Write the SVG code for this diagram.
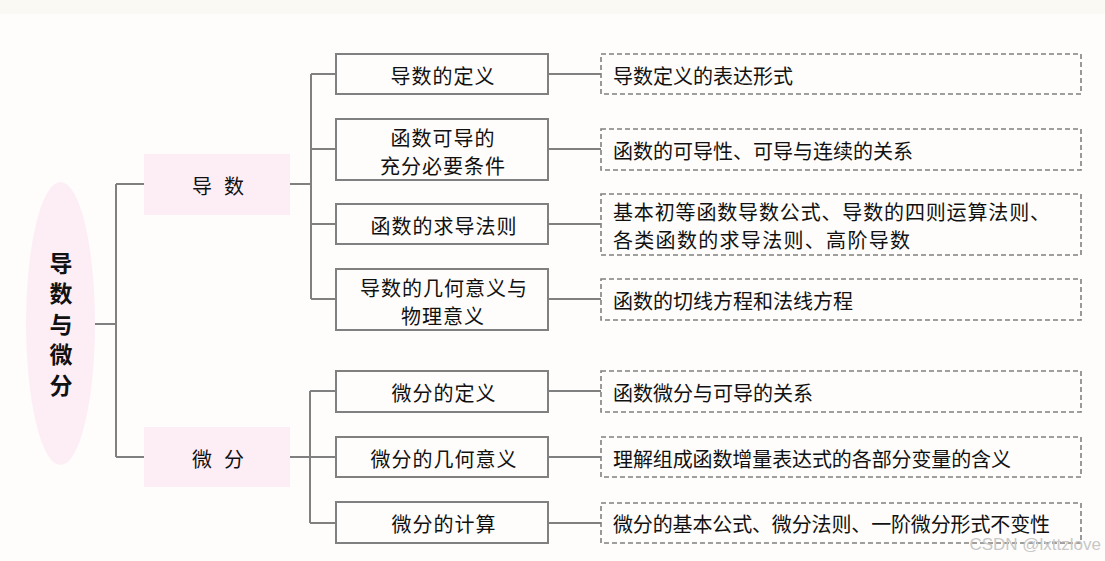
<svg xmlns="http://www.w3.org/2000/svg" width="1105" height="561" viewBox="0 0 1105 561">
<style>
.t{font-family:"Noto Sans CJK SC","Liberation Serif",serif;fill:#111;font-size:20px;dominant-baseline:central}
.m{text-anchor:middle;letter-spacing:1px}
.box{fill:#fefdfb;stroke:#808080;stroke-width:2}
.dash{fill:#fefdfb;stroke:#808080;stroke-width:1.6;stroke-dasharray:5 3}
.pink{fill:#fdeef6}
.c{fill:none;stroke:#808080;stroke-width:2}
</style>
<rect x="0" y="0" width="1105" height="561" fill="#fefdfb"/>
<rect x="0" y="0" width="1105" height="14" fill="#faf9f4"/>
<g id="connectors">
<path class="c" d="M95 324H116M116 184V457M116 184H145M116 457H145"/>
<path class="c" d="M290 184H311M311 74V299M311 74H336M311 149H336M311 224H336M311 299H336"/>
<path class="c" d="M290 457H336M310 391V523M310 391H336M310 523H336"/>
<path class="c" d="M548 74H601M548 149H601M548 224H601M548 299H601M548 391H601M548 457H601M548 523H601"/>
</g>
<g id="root"><ellipse class="pink" cx="60.5" cy="323.5" rx="34.5" ry="141.5"/>
<text x="61" y="328" style="font-family:'Noto Sans CJK SC',sans-serif;fill:#111;font-size:23px;font-weight:bold;writing-mode:vertical-rl;text-anchor:middle;letter-spacing:7.5px">导数与微分</text></g>
<g id="n-daoshu"><rect class="pink" x="144" y="154" width="146" height="61"/><text class="t m" x="224" y="185" style="letter-spacing:12px">导数</text></g>
<g id="n-weifen"><rect class="pink" x="144" y="427" width="146" height="60"/><text class="t m" x="224" y="458" style="letter-spacing:12px">微分</text></g>
<g id="b1"><rect class="box" x="336" y="54" width="212" height="40"/><text class="t m" x="443" y="75">导数的定义</text></g>
<g id="b2"><rect class="box" x="336" y="119" width="212" height="61"/><text class="t m" x="443" y="137">函数可导的</text><text class="t m" x="443" y="165">充分必要条件</text></g>
<g id="b3"><rect class="box" x="336" y="204" width="212" height="40"/><text class="t m" x="444" y="225">函数的求导法则</text></g>
<g id="b4"><rect class="box" x="336" y="269" width="212" height="61"/><text class="t m" x="444" y="287">导数的几何意义与</text><text class="t m" x="443" y="315">物理意义</text></g>
<g id="b5"><rect class="box" x="336" y="371" width="212" height="41"/><text class="t m" x="444" y="392">微分的定义</text></g>
<g id="b6"><rect class="box" x="336" y="437" width="212" height="40"/><text class="t m" x="444" y="458">微分的几何意义</text></g>
<g id="b7"><rect class="box" x="336" y="502" width="212" height="41"/><text class="t m" x="444" y="523">微分的计算</text></g>
<g id="d1"><rect class="dash" x="601" y="54" width="480" height="40"/><text class="t" x="613" y="75">导数定义的表达形式</text></g>
<g id="d2"><rect class="dash" x="601" y="129" width="480" height="41"/><text class="t" x="613" y="150">函数的可导性、可导与连续的关系</text></g>
<g id="d3"><rect class="dash" x="601" y="194" width="480" height="61"/><text class="t" x="613" y="211" textLength="437" lengthAdjust="spacing">基本初等函数导数公式、导数的四则运算法则、</text><text class="t" x="613" y="239" textLength="297" lengthAdjust="spacing">各类函数的求导法则、高阶导数</text></g>
<g id="d4"><rect class="dash" x="601" y="279" width="480" height="41"/><text class="t" x="613" y="300">函数的切线方程和法线方程</text></g>
<g id="d5"><rect class="dash" x="601" y="371" width="480" height="41"/><text class="t" x="613" y="392">函数微分与可导的关系</text></g>
<g id="d6"><rect class="dash" x="601" y="437" width="480" height="40"/><text class="t" x="613" y="458" textLength="398" lengthAdjust="spacing">理解组成函数增量表达式的各部分变量的含义</text></g>
<g id="d7"><rect class="dash" x="601" y="503" width="480" height="40"/><text class="t" x="613" y="523" textLength="437" lengthAdjust="spacing">微分的基本公式、微分法则、一阶微分形式不变性</text></g>
<text x="1101" y="544" style="font-family:'Liberation Sans',sans-serif;font-size:17px;fill:#c8c8c8;text-anchor:end;dominant-baseline:central">CSDN @lxttzlove</text>
</svg>
